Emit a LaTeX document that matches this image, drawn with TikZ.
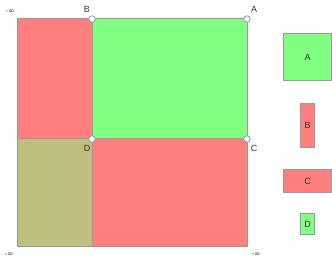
\documentclass[tikz,border=0pt]{standalone}
\usepackage{fontspec}
\setmainfont{Liberation Sans}
\newfontfamily\symfont{DejaVu Sans}
\definecolor{rd}{HTML}{FF7F7F}
\definecolor{gr}{HTML}{80FF80}
\definecolor{ol}{HTML}{BFBF80}
\definecolor{bd}{HTML}{999999}
\definecolor{tx}{HTML}{333333}
\begin{document}
\begin{tikzpicture}[x=1pt,y=-1pt,
  region/.style={draw=bd,line width=1pt},
  pt/.style={circle,draw=bd,fill=white,inner sep=0pt,minimum size=6.5pt,line width=0.8pt},
  lbl/.style={text=tx,font=\fontsize{9}{10}\selectfont,inner sep=0pt},
  inf/.style={text=tx,font=\symfont\fontsize{7.5}{8}\selectfont,inner sep=0pt},
  legend/.style={draw=bd,line width=1pt,text=tx,font=\fontsize{9}{10}\selectfont}]
\useasboundingbox (0,0) rectangle (332,264);
\fill[rd] (17,19) rectangle (92,139);
\fill[gr] (92,19) rectangle (247,139);
\fill[ol] (17,139) rectangle (92,247);
\fill[rd] (92,139) rectangle (247,247);
\draw[region] (17,19) rectangle (247,247);
\draw[region] (92,19) -- (92,247);
\draw[region] (17,139) -- (247,139);
\node[pt] (B) at (92,19) {};
\node[pt] (A) at (247,19) {};
\node[pt] (D) at (92,139) {};
\node[pt] (C) at (247,139) {};
\node[lbl] (lB) at (87,9) {B};
\node[lbl] (lA) at (254,9) {A};
\node[lbl] (lD) at (87,148) {D};
\node[lbl] (lC) at (254,148) {C};
\node[inf] (i1) at (10,12) {-∞};
\node[inf] (i2) at (9,255) {-∞};
\node[inf] (i3) at (256,255) {-∞};
\node[legend,fill=gr,minimum width=48pt,minimum height=47pt] (kA) at (307.5,57) {A};
\node[legend,fill=rd,minimum width=14pt,minimum height=44pt] (kB) at (307.5,125.5) {B};
\node[legend,fill=rd,minimum width=48pt,minimum height=23pt] (kC) at (307.5,181) {C};
\node[legend,fill=gr,minimum width=14pt,minimum height=21pt] (kD) at (307.5,224) {D};
\end{tikzpicture}
\end{document}
